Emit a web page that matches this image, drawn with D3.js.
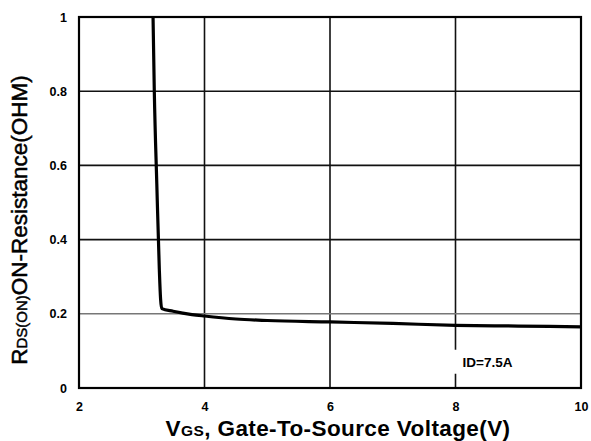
<!DOCTYPE html>
<html>
<head>
<meta charset="utf-8">
<script src="https://cdn.jsdelivr.net/npm/d3@7"></script>
<style>
  body { margin: 0; background: #fff; }
  svg { display: block; font-family: "Liberation Sans", Arial, sans-serif; }
  .tick text { font-size: 12.5px; font-weight: bold; fill: #000; }
</style>
</head>
<body>
<div id="viz"></div>
<script>
// Rds(on) vs Vgs, ID=7.5A
var vgs  = [3.18, 3.2, 3.24, 3.28, 3.3, 3.32, 3.5, 3.8, 4.0, 4.5, 5.0, 6.0, 7.0, 8.0, 9.0, 10.0];
var rdson = [1.0, 0.8, 0.55, 0.32, 0.24, 0.214, 0.207, 0.198, 0.194, 0.186, 0.182, 0.178, 0.174, 0.169, 0.167, 0.165];
var xTicks = [2, 4, 6, 8, 10];
var yTicks = [0, 0.2, 0.4, 0.6, 0.8, 1];

var margin = { top: 17, right: 10, bottom: 53, left: 79 },
    width = 591 - margin.left - margin.right,
    height = 441 - margin.top - margin.bottom;

var svg = d3.select('#viz').append('svg')
    .attr('width', 591)
    .attr('height', 441);

var g = svg.append('g')
    .attr('transform', 'translate(' + margin.left + ',' + margin.top + ')');

var xScale = d3.scaleLinear().domain([2, 10]).range([0, width]);
var yScale = d3.scaleLinear().domain([0, 1]).range([height, 0]);

// grid
g.append('g')
    .selectAll('line.vgrid').data(xTicks.slice(1, -1))
    .enter().append('line')
      .attr('x1', function(d) { return xScale(d); })
      .attr('x2', function(d) { return xScale(d); })
      .attr('y1', 0).attr('y2', height)
      .attr('stroke', '#111')
      .attr('stroke-width', 1.6);

g.append('g')
    .selectAll('line.hgrid').data(yTicks.slice(1, -1))
    .enter().append('line')
      .attr('x1', 0).attr('x2', width)
      .attr('y1', function(d) { return yScale(d); })
      .attr('y2', function(d) { return yScale(d); })
      .attr('stroke', function(d) { return d === 0.2 ? '#777' : '#111'; })
      .attr('stroke-width', 1.6);

// frame
g.append('rect')
    .attr('width', width).attr('height', height)
    .attr('fill', 'none')
    .attr('stroke', '#000')
    .attr('stroke-width', 2.2);

// axes (labels only)
var xAxis = g.append('g')
    .attr('transform', 'translate(0,' + height + ')')
    .call(d3.axisBottom(xScale).tickValues(xTicks).tickSize(0).tickPadding(14).tickFormat(d3.format('d')));
xAxis.select('.domain').remove();

var yAxis = g.append('g')
    .call(d3.axisLeft(yScale).tickValues(yTicks).tickSize(0).tickPadding(12).tickFormat(function(d) { return d; }));
yAxis.select('.domain').remove();

// curve
var line = d3.line()
    .x(function(d, i) { return xScale(vgs[i]); })
    .y(function(d) { return yScale(d); })
    .curve(d3.curveMonotoneX);

g.append('path')
    .datum(rdson)
    .attr('d', line)
    .attr('fill', 'none')
    .attr('stroke', '#000')
    .attr('stroke-width', 3.2)
    .attr('stroke-linejoin', 'round');

// condition label
var lx = xScale(8) + 2, ly = yScale(0.06);
g.append('rect')
    .attr('x', xScale(8) - 3).attr('y', ly - 16)
    .attr('width', 70).attr('height', 24)
    .attr('fill', '#fff');
g.append('text')
    .attr('x', lx + 5).attr('y', ly + 1)
    .style('font-size', '13.5px')
    .style('font-weight', 'bold')
    .text('ID=7.5A');

// axis titles
var xt = svg.append('text')
    .attr('x', 338)
    .attr('y', 436)
    .attr('text-anchor', 'middle')
    .style('font-size', '22.5px')
    .style('font-weight', 'bold')
    .style('letter-spacing', '0.4px');
xt.append('tspan').text('V');
xt.append('tspan').style('font-size', '15.5px').text('GS');
xt.append('tspan').text(', Gate-To-Source Voltage(V)');

var yt = svg.append('text')
    .attr('transform', 'translate(27,220) rotate(-90)')
    .attr('text-anchor', 'middle')
    .style('font-size', '22.5px')
    .style('font-weight', 'normal')
    .style('stroke', '#000')
    .style('stroke-width', 0.5);
yt.append('tspan').text('R');
yt.append('tspan').style('font-size', '15px').text('DS(ON)');
yt.append('tspan').text('ON-Resistance(OHM)');
</script>
</body>
</html>
